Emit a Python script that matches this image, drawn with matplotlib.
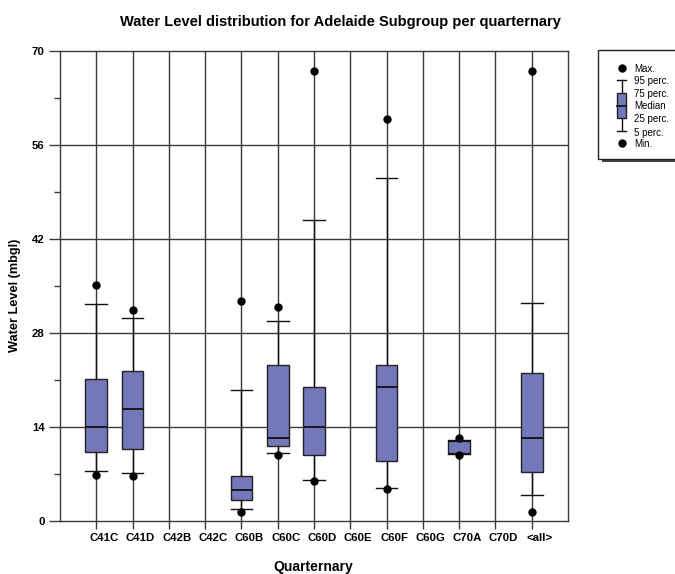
import matplotlib
matplotlib.use("Agg")
import matplotlib.pyplot as plt
import matplotlib.transforms as mtransforms
from matplotlib.patches import Rectangle

plt.rcParams['font.family'] = ['Liberation Sans', 'DejaVu Sans']

# quarternary codes along the x axis
quarternary = ['C41C', 'C41D', 'C42B', 'C42C', 'C60B', 'C60C', 'C60D',
               'C60E', 'C60F', 'C60G', 'C70A', 'C70D', '<all>']

# water level stats per quarternary (mbgl); None = no data
wl_min = [6.8, 6.75, None, None, 1.35, 9.9, 5.95, None, 4.8, None, 9.8, None, 1.35]
wl_p5 = [7.5, 7.2, None, None, 1.8, 10.1, 6.1, None, 4.9, None, 9.95, None, 3.8]
wl_p25 = [10.3, 10.7, None, None, 3.2, 11.2, 9.8, None, 8.95, None, 10.15, None, 7.35]
wl_med = [14.0, 16.7, None, None, 4.6, 12.35, 14.0, None, 20.0, None, 11.9, None, 12.35]
wl_p75 = [21.1, 22.3, None, None, 6.75, 23.3, 19.9, None, 23.3, None, 11.9, None, 22.0]
wl_p95 = [32.3, 30.3, None, None, 19.5, 29.8, 44.8, None, 51.1, None, 12.1, None, 32.4]
wl_max = [35.1, 31.5, None, None, 32.8, 31.9, 67.0, None, 59.9, None, 12.3, None, 67.0]

box_color = '#7478BA'
grid_color = '#3a3a3a'

fig = plt.figure(figsize=(6.75, 5.74), dpi=100)
ax = fig.add_axes([60 / 675, 53 / 574, 508 / 675, 470 / 574])

positions = list(range(1, len(quarternary) + 1))

stats = []
pos_used = []
for i, name in enumerate(quarternary):
    if wl_med[i] is None:
        continue
    stats.append(dict(label=name, med=wl_med[i], q1=wl_p25[i], q3=wl_p75[i],
                      whislo=wl_p5[i], whishi=wl_p95[i],
                      fliers=[wl_min[i], wl_max[i]]))
    pos_used.append(positions[i])

ax.bxp(stats, positions=pos_used, widths=0.6, capwidths=0.6, patch_artist=True,
       manage_ticks=False,
       boxprops=dict(facecolor=box_color, edgecolor='#222222', linewidth=1.0),
       medianprops=dict(color='#111111', linewidth=1.3),
       whiskerprops=dict(color='#111111', linewidth=1.0),
       capprops=dict(color='#111111', linewidth=1.0),
       flierprops=dict(marker='o', markerfacecolor='black', markeredgecolor='black',
                       markersize=5),
       zorder=3)

# grid: horizontal at major ticks, vertical through every category
for y in [14, 28, 42, 56]:
    ax.axhline(y, color=grid_color, linewidth=1.0, zorder=1)
for x in positions:
    ax.axvline(x, color=grid_color, linewidth=1.0, zorder=1)

ax.set_xlim(0, 14)
ax.set_ylim(0, 70)
ax.set_yticks([0, 14, 28, 42, 56, 70])
ax.set_yticks([7, 21, 35, 49, 63], minor=True)
ax.set_xticks(positions)
ax.set_xticklabels([])
# category names sit a little right of their tick
lab_tf = ax.get_xaxis_transform() + mtransforms.ScaledTranslation(8 / 100, -17 / 100, fig.dpi_scale_trans)
for x, name in zip(positions, quarternary):
    ax.text(x, 0, name, transform=lab_tf, ha='center', va='center',
            fontsize=8.2, fontweight='bold', clip_on=False)
for lbl in ax.get_yticklabels():
    lbl.set_fontsize(8.2)
    lbl.set_fontweight('bold')
ax.tick_params(axis='y', which='major', length=8, width=1, color=grid_color, pad=3)
ax.tick_params(axis='y', which='minor', length=4, width=1, color=grid_color)
ax.tick_params(axis='x', length=6, width=1, color=grid_color, pad=3)
for sp in ax.spines.values():
    sp.set_color(grid_color)
    sp.set_linewidth(1.0)

fig.text(313 / 675, 1 - 567 / 574, 'Quarternary', ha='center', va='center',
         fontsize=10, fontweight='bold')
fig.text(15 / 675, 1 - 295 / 574, 'Water Level (mbgl)', ha='center', va='center',
         rotation=90, fontsize=9.2, fontweight='bold')
fig.text(340 / 675, 1 - 22 / 574, 'Water Level distribution for Adelaide Subgroup per quarternary',
         ha='center', va='center', fontsize=10.5, fontweight='bold')

# key box in pixel coordinates
lg = fig.add_axes([0, 0, 1, 1], zorder=5)
lg.set_xlim(0, 675)
lg.set_ylim(574, 0)
lg.axis('off')
lg.add_patch(Rectangle((602, 53), 90, 109, facecolor='#444444', edgecolor='none'))
lg.add_patch(Rectangle((598, 50), 90, 109, facecolor='white', edgecolor='#222222', linewidth=1.0))
kx = 621.5
hw = 4.5
lg.plot([kx, kx], [80, 131], color='#111111', linewidth=1.0)
lg.plot([kx - hw, kx + hw], [80, 80], color='#111111', linewidth=1.0)
lg.plot([kx - hw, kx + hw], [131, 131], color='#111111', linewidth=1.0)
lg.add_patch(Rectangle((kx - hw, 93), 2 * hw, 25, facecolor=box_color, edgecolor='#222222',
                       linewidth=1.0, zorder=3))
lg.plot([kx - hw, kx + hw], [106, 106], color='#111111', linewidth=1.3, zorder=4)
lg.plot([kx, kx], [68, 143], linestyle='none', marker='o', color='black', markersize=5)
key_labels = ['Max.', '95 perc.', '75 perc.', 'Median', '25 perc.', '5 perc.', 'Min.']
key_y = [69, 81, 94, 106, 119, 133, 144]
for t, y in zip(key_labels, key_y):
    lg.text(634, y, t, fontsize=7, va='center', ha='left')

fig.savefig('out.png', dpi=100)
